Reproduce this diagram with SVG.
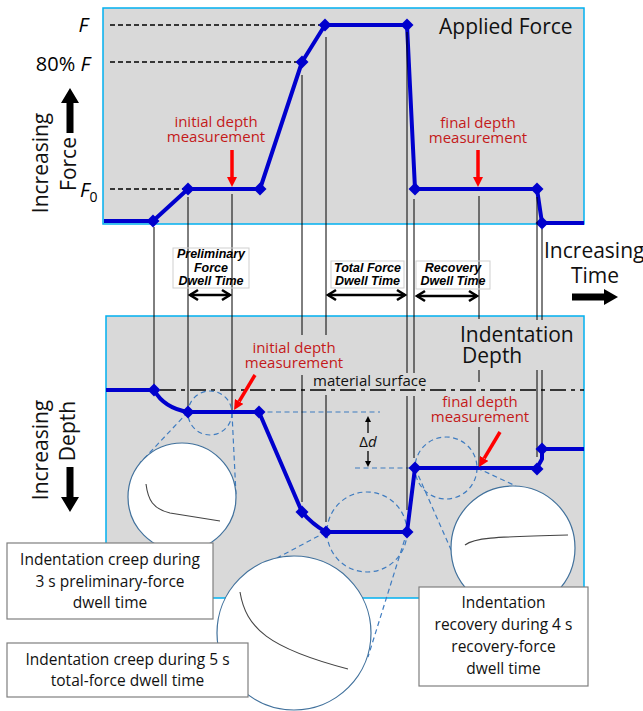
<svg xmlns="http://www.w3.org/2000/svg" width="643" height="711" viewBox="0 0 643 711">
<style>
text{font-family:"Open Sans","Liberation Sans",sans-serif;}
.panel{fill:#d9d9d9;stroke:#00b0f0;stroke-width:1.5;}
.curve{fill:none;stroke:#0000cd;stroke-width:4;stroke-linejoin:round;}
.dm{fill:#0000cd;}
.vl{stroke:#000;stroke-width:1;fill:none;}
.hd{stroke:#000;stroke-width:1.5;stroke-dasharray:5 3;fill:none;}
.bd{stroke:#3f7cc0;stroke-width:1.2;stroke-dasharray:5 3.5;fill:none;}
.big{fill:#fff;stroke:#41719c;stroke-width:1.2;}
.mag{fill:none;stroke:#444;stroke-width:1.1;}
.red{fill:#c41a1a;font-size:15px;text-anchor:middle;}
.rarr{stroke:#ff0000;stroke-width:3.5;fill:none;}
.lab{font-size:21px;fill:#111;}
.dw{font-family:"Liberation Sans","Open Sans",sans-serif;font-size:12.5px;font-weight:bold;font-style:italic;text-anchor:middle;fill:#000;}
.dwbox{fill:none;stroke:#cfcfcf;stroke-width:1;}
.darr{stroke:#000;stroke-width:2.5;fill:none;}
.box{fill:#fff;stroke:#7f7f7f;stroke-width:1.2;}
.bt{font-size:15.5px;text-anchor:middle;fill:#111;}
</style>
<defs>
<path id="dm" class="dm" d="M0,-6.5 L6.5,0 L0,6.5 L-6.5,0Z"/>
<marker id="ra" viewBox="0 0 10 10" refX="0" refY="5" markerWidth="10" markerHeight="10" markerUnits="userSpaceOnUse" orient="auto">
<path d="M0,0 L10,5 L0,10Z" fill="#ff0000"/>
</marker>
<marker id="ka" viewBox="0 0 10 10" refX="0" refY="5" markerWidth="6" markerHeight="6" markerUnits="userSpaceOnUse" orient="auto">
<path d="M0,0 L10,5 L0,10Z" fill="#000"/>
</marker>
<marker id="ch" viewBox="-11 -7 13 14" refX="0" refY="0" markerWidth="13" markerHeight="14" markerUnits="userSpaceOnUse" orient="auto-start-reverse">
<path d="M-8,-5 L0,0 L-8,5" fill="none" stroke="#000" stroke-width="2.6"/>
</marker>
</defs>

<g id="force-panel">
<rect class="panel" x="103" y="8" width="481" height="216"/>
<path class="hd" d="M110,25 H325 M110,62 H302 M110,189 H188"/>
<text x="88" y="32" font-size="20" font-style="italic" text-anchor="end">F</text>
<text x="90" y="71" font-size="20" text-anchor="end">80% <tspan font-style="italic">F</tspan></text>
<text x="80" y="197" font-size="20" font-style="italic">F<tspan font-size="14" dy="5" font-style="normal">0</tspan></text>
<text class="lab" x="439" y="34">Applied Force</text>
<text class="red" x="216" y="127">initial depth</text>
<text class="red" x="216" y="142">measurement</text>
<text class="red" x="478" y="128">final depth</text>
<text class="red" x="478" y="143">measurement</text>
<line class="rarr" x1="232" y1="150" x2="232" y2="177" marker-end="url(#ra)"/>
<line class="rarr" x1="478" y1="150" x2="478" y2="177" marker-end="url(#ra)"/>
<path class="curve" d="M104,221 L153,221 L188,189 L260,189 L302,62 L325,25 L407,25 L415,189 L537,189 L542,223 L584,223"/>
<use href="#dm" x="153" y="221"/><use href="#dm" x="188" y="189"/><use href="#dm" x="260" y="189"/>
<use href="#dm" x="302" y="62"/><use href="#dm" x="325" y="25"/><use href="#dm" x="407" y="25"/>
<use href="#dm" x="415" y="189"/><use href="#dm" x="537" y="189"/><use href="#dm" x="542" y="223"/>
</g>

<g id="force-axis">
<text class="lab" transform="translate(48,163) rotate(-90)" text-anchor="middle">Increasing</text>
<text class="lab" transform="translate(76,164) rotate(-90)" text-anchor="middle">Force</text>
<polygon points="70,88 79,103 73.5,103 73.5,133 66.5,133 66.5,103 61,103" fill="#000"/>
</g>

<g id="depth-panel">
<rect class="panel" x="106" y="316" width="478" height="282"/>
<path d="M160,390 H584" stroke="#000" stroke-width="1.5" stroke-dasharray="16 5 4 5" fill="none"/>
<text x="313" y="386" font-size="15" fill="#111">material surface</text>
<text class="lab" x="460" y="342">Indentation</text>
<text class="lab" x="462" y="363">Depth</text>
<text class="red" x="294" y="353">initial depth</text>
<text class="red" x="294" y="368">measurement</text>
<text class="red" x="480" y="407">final depth</text>
<text class="red" x="480" y="422">measurement</text>
<path class="bd" d="M259,412 H380 M355,468 H415"/>
<line x1="368" y1="433" x2="368" y2="422" stroke="#000" stroke-width="1.3" marker-end="url(#ka)"/>
<line x1="368" y1="451" x2="368" y2="461" stroke="#000" stroke-width="1.3" marker-end="url(#ka)"/>
<text x="368" y="447" font-size="15" text-anchor="middle" fill="#111">Δ<tspan font-style="italic">d</tspan></text>
</g>

<g id="depth-axis">
<text class="lab" transform="translate(48,450) rotate(-90)" text-anchor="middle">Increasing</text>
<text class="lab" transform="translate(75,431) rotate(-90)" text-anchor="middle">Depth</text>
<polygon points="66.5,467 73.5,467 73.5,497 79,497 70,512 61,497 66.5,497" fill="#000"/>
</g>

<g id="time-axis">
<text class="lab" x="544" y="258">Increasing</text>
<text class="lab" x="571" y="283">Time</text>
<polygon points="572,293.5 604,293.5 604,289 618,297 604,305 604,300.5 572,300.5" fill="#000"/>
</g>

<g id="connectors">
<path class="vl" d="M154,227 V385 M188,197 V407 M232,194 V410 M302,75 V335 M302,375 V502 M326,37 V335 M326,395 V522 M407,32 V373 M407,396 V510 M414,199 V373 M414,396 V458 M479,196 V319 M479,370 V382 M479,427 V467 M537,197 V320 M537,370 V457 M542,229 V320 M542,370 V447"/>
</g>

<g id="magnifiers">
<path class="bd" d="M188,412 L140,463 M232,413 L236,495 M326,532 L277,558 M407,532 L368,657 M415,468 L452,552 M477,468 L516,486"/>
<circle class="bd" cx="210" cy="413" r="22"/>
<circle class="bd" cx="367" cy="532" r="40"/>
<circle class="bd" cx="446" cy="468" r="31"/>
<circle class="big" cx="182" cy="497" r="54"/>
<path class="mag" d="M146,484 C148,500 153,509 170,513 L220,521"/>
<circle class="big" cx="294" cy="633" r="77"/>
<path class="mag" d="M240,592 C246,628 268,648 348,669"/>
<circle class="big" cx="513" cy="548" r="62"/>
<path class="mag" d="M465,545 C474,538 490,537 568,535"/>
</g>

<g id="depth-curve">
<path class="curve" d="M106,390 L154,390 Q164,408 188,412 L259,412 L302,512 Q312,524 326,532 L407,532 L415,468 L537,468 L542,459 L542,449 L584,449"/>
<use href="#dm" x="154" y="390"/><use href="#dm" x="188" y="412"/><use href="#dm" x="259" y="412"/>
<use href="#dm" x="302" y="512"/><use href="#dm" x="326" y="532"/><use href="#dm" x="407" y="532"/>
<use href="#dm" x="415" y="468"/><use href="#dm" x="537" y="469"/><use href="#dm" x="542" y="449"/>
<line class="rarr" x1="255" y1="375" x2="239.2" y2="401.4" marker-end="url(#ra)"/>
<line class="rarr" x1="500" y1="432" x2="484.2" y2="458.4" marker-end="url(#ra)"/>
</g>

<g id="dwell-labels">
<rect class="dwbox" x="173" y="248" width="76" height="40"/>
<text class="dw" x="211" y="258">Preliminary</text>
<text class="dw" x="211" y="271.5">Force</text>
<text class="dw" x="211" y="285">Dwell Time</text>
<line class="darr" x1="190" y1="295" x2="230" y2="295" marker-start="url(#ch)" marker-end="url(#ch)"/>
<rect class="dwbox" x="331" y="261" width="73" height="27"/>
<text class="dw" x="367.5" y="271.5">Total Force</text>
<text class="dw" x="367.5" y="285">Dwell Time</text>
<line class="darr" x1="328" y1="295" x2="405" y2="295" marker-start="url(#ch)" marker-end="url(#ch)"/>
<rect class="dwbox" x="416" y="261" width="74" height="28"/>
<text class="dw" x="453" y="271.5">Recovery</text>
<text class="dw" x="453" y="285">Dwell Time</text>
<line class="darr" x1="417" y1="296" x2="477" y2="296" marker-start="url(#ch)" marker-end="url(#ch)"/>
</g>

<g id="box-prelim">
<rect class="box" x="7" y="543" width="206" height="76"/>
<text class="bt" x="110" y="565">Indentation creep during</text>
<text class="bt" x="110" y="587">3 s preliminary-force</text>
<text class="bt" x="110" y="608">dwell time</text>
</g>
<g id="box-total">
<rect class="box" x="7" y="643" width="241" height="54"/>
<text class="bt" x="127.5" y="665">Indentation creep during 5 s</text>
<text class="bt" x="127.5" y="686">total-force dwell time</text>
</g>
<g id="box-recovery">
<rect class="box" x="419" y="587" width="169" height="99"/>
<text class="bt" x="503.5" y="608">Indentation</text>
<text class="bt" x="503.5" y="630">recovery during 4 s</text>
<text class="bt" x="503.5" y="652">recovery-force</text>
<text class="bt" x="503.5" y="674">dwell time</text>
</g>
</svg>
